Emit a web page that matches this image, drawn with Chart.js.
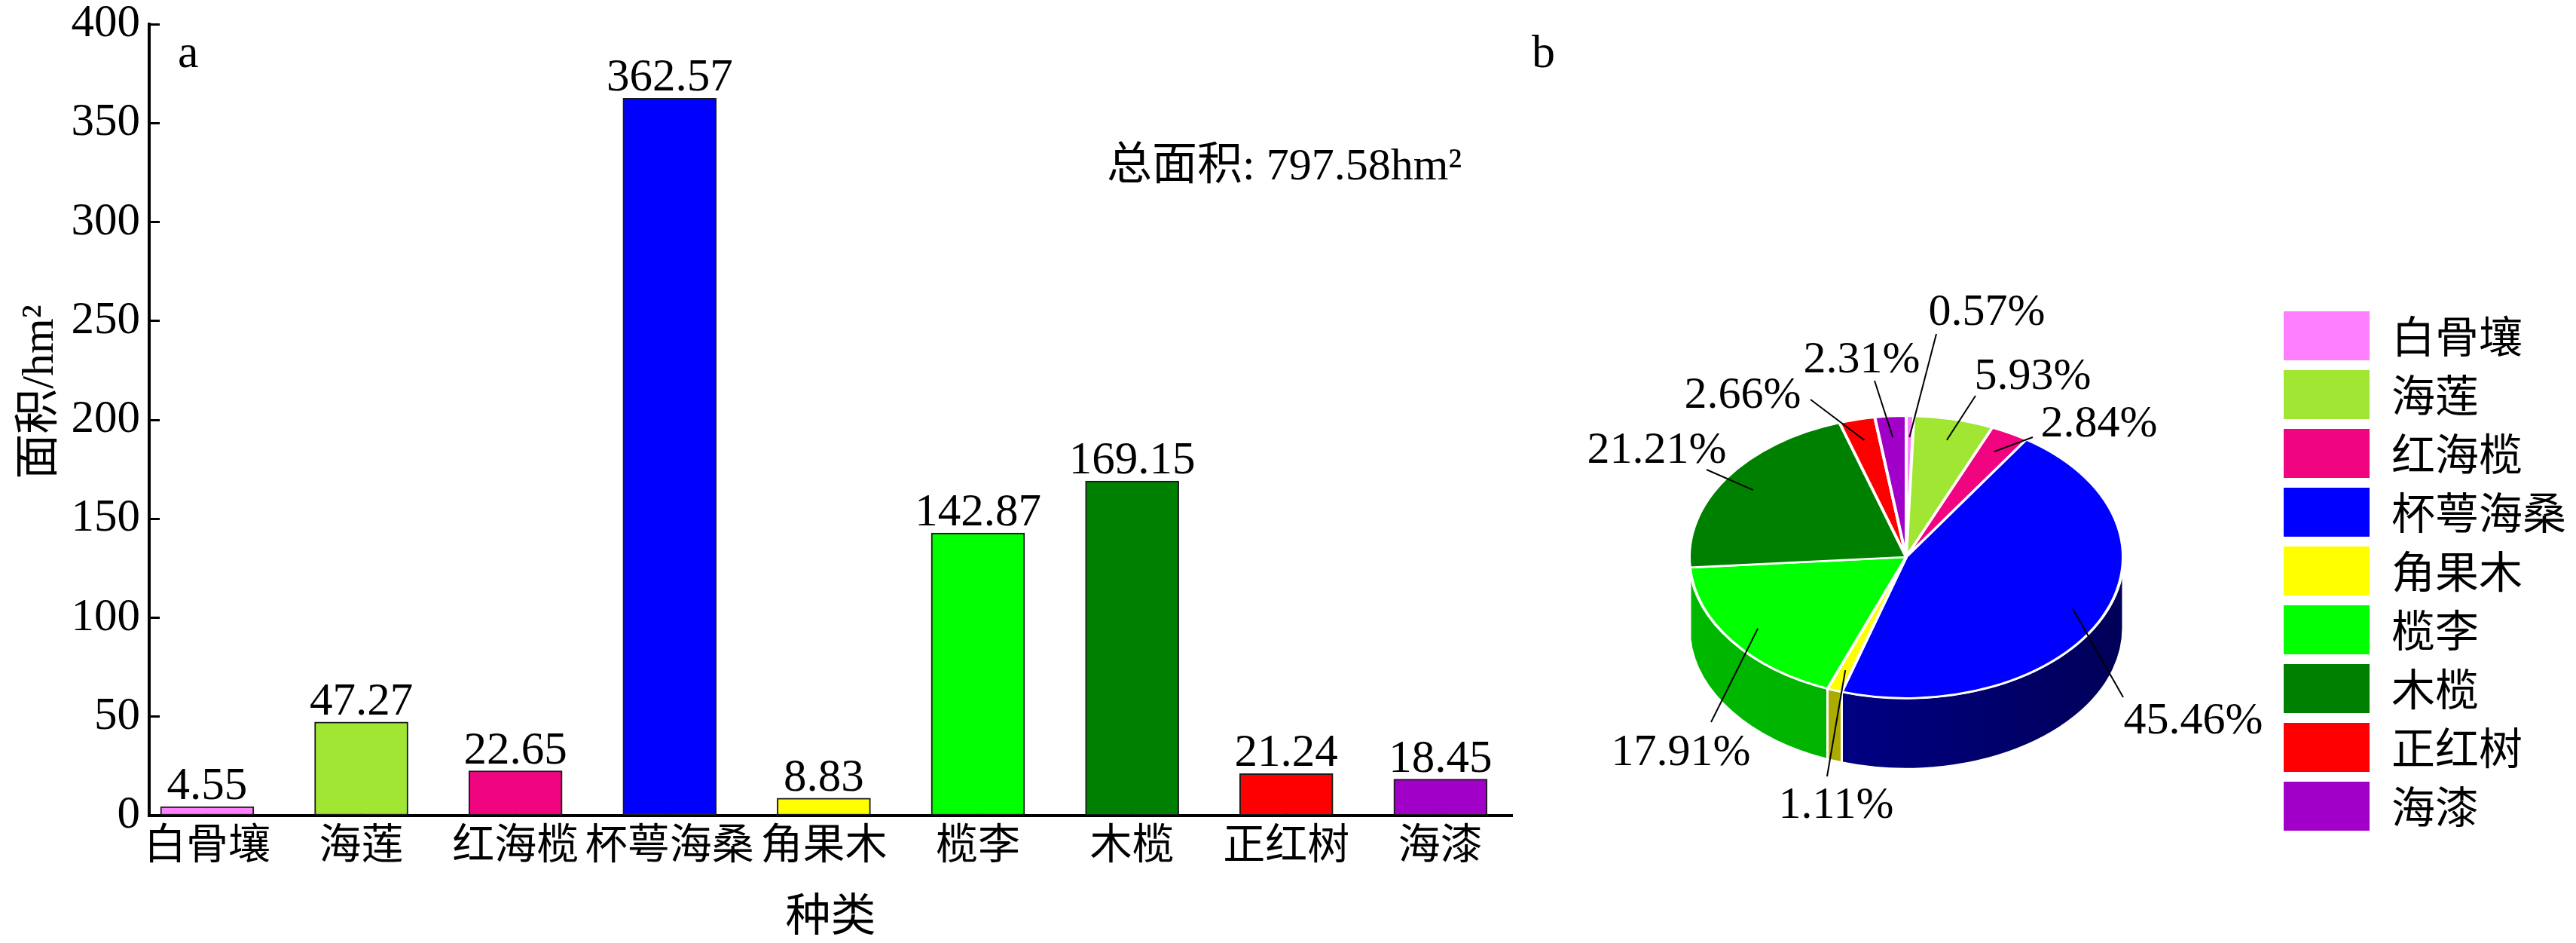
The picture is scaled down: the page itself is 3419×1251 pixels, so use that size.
<!DOCTYPE html>
<html><head><meta charset="utf-8">
<script src="https://cdn.jsdelivr.net/npm/chart.js@4.4.0/dist/chart.umd.min.js"></script>
<style>
html,body{margin:0;padding:0;background:#fff;}
#wrap{position:relative;width:3419px;height:1251px;overflow:hidden;background:#fff;}
canvas{position:absolute;top:0;}
#bar{left:0;width:2010px;height:1251px;}
#pie{left:2010px;width:1409px;height:1251px;}
</style></head><body>
<div id="wrap"><canvas id="bar" width="2010" height="1251"></canvas><canvas id="pie" width="1409" height="1251"></canvas></div>
<script>
// ---- data ----
const categories = ['白骨壤','海莲','红海榄','杯萼海桑','角果木','榄李','木榄','正红树','海漆'];
const areaValues = [4.55, 47.27, 22.65, 362.57, 8.83, 142.87, 169.15, 21.24, 18.45];
const sharePercents = [0.57, 5.93, 2.84, 45.46, 1.11, 17.91, 21.21, 2.66, 2.31];
const yTickValues = [0, 50, 100, 150, 200, 250, 300, 350, 400];
const totalAreaText = '总面积: 797.58hm²';
const xTitle = '种类';
const yTitle = '面积/hm²';

// ---- styles ----
const speciesColors = ['#FF80FF','#A0E632','#F0047F','#0000FF','#FFFF00','#00FF00','#008000','#FF0000','#A000C8'];
const sideShades = [['#C060C0','#A050A0'],['#80B828','#70A020'],['#B00060','#900050'],['#00009A','#000058'],
                    ['#B0B000','#A0A000'],['#00B800','#00A800'],['#006400','#005400'],['#B00000','#900000'],['#7000A0','#600090']];
const labelLineEnds = [[40,-296],[92,-214],[168,-159],[288,186],[-105,291],[-259,219],[-265,-116],[-127,-209],[-42,-234]];
const labelTextPos  = [[107,-308],[168,-223],[256,-160],[381,234],[-93,346],[-299,276],[-331,-125],[-217,-198],[-59,-245]];
const SERIF = "'Liberation Serif','Times New Roman',serif";
const CJK = "'Noto Sans CJK SC',sans-serif";
const MIXED = "'Liberation Serif','Noto Sans CJK SC',serif";
const TILT = 0.65, DEPTH = 94, INNER = 0.85;

// ---- bar chart ----
const barDecor = {
  id: 'barDecor',
  afterDatasetsDraw(chart) {
    const ctx = chart.ctx;
    const meta = chart.getDatasetMeta(0);
    ctx.save();
    ctx.font = '61px ' + SERIF;
    ctx.fillStyle = '#000';
    ctx.textAlign = 'center';
    ctx.textBaseline = 'alphabetic';
    meta.data.forEach((bar, i) => {
      ctx.fillText(areaValues[i].toFixed(2), bar.x, bar.y - 10);
    });
    ctx.restore();
  },
  afterDraw(chart) {
    const ctx = chart.ctx;
    ctx.save();
    ctx.fillStyle = '#000';
    ctx.textBaseline = 'alphabetic';
    ctx.textAlign = 'left';
    ctx.font = '62px ' + SERIF;
    ctx.fillText('a', 236, 89);
    ctx.font = '60px ' + MIXED;
    ctx.fillText(totalAreaText, 1469, 238);
    ctx.translate(54, 520);
    ctx.rotate(-Math.PI / 2);
    ctx.textAlign = 'center';
    ctx.textBaseline = 'middle';
    ctx.fillText(yTitle, 0, 0);
    ctx.restore();
  }
};

new Chart(document.getElementById('bar'), {
  type: 'bar',
  data: {
    datasets: [{
      data: categories.map((c, i) => ({x: i + 1, y: areaValues[i]})),
      backgroundColor: speciesColors,
      borderColor: '#1a1a1a',
      borderWidth: 2,
      borderSkipped: false,
      barThickness: 124
    }]
  },
  options: {
    responsive: false,
    animation: false,
    devicePixelRatio: 1,
    layout: {padding: {top: 32, right: 3, left: 0, bottom: 0}},
    plugins: {legend: {display: false}, tooltip: {enabled: false}},
    scales: {
      x: {
        type: 'linear',
        offset: false,
        min: 0.624, max: 9.465,
        z: 1,
        afterBuildTicks: s => { s.ticks = categories.map((c, i) => ({value: i + 1})); },
        afterFit: s => { s.height = 169; },
        ticks: {
          autoSkip: false, maxRotation: 0, minRotation: 0,
          callback: v => categories[Math.round(v) - 1],
          font: {family: CJK, size: 56, lineHeight: 1.2},
          color: '#000', padding: 7
        },
        grid: {offset: false, drawOnChartArea: false, tickLength: -5, tickWidth: 3, tickColor: '#000'},
        border: {color: '#000', width: 4},
        title: {display: true, text: xTitle, font: {family: CJK, size: 60, lineHeight: 1.2}, color: '#000', padding: {top: 0, bottom: 3}}
      },
      y: {
        min: 0, max: 400,
        z: 1,
        afterBuildTicks: s => { s.ticks = yTickValues.map(v => ({value: v})); },
        afterFit: s => { s.width = 198; s.paddingTop = 0; s.paddingBottom = 0; },
        ticks: {font: {family: SERIF, size: 61, lineHeight: 1}, color: '#000', padding: 26},
        grid: {drawOnChartArea: false, tickLength: -14, tickWidth: 3, tickColor: '#000'},
        border: {color: '#000', width: 4}
      }
    }
  },
  plugins: [barDecor]
});

// ---- 3D pie ----
const pie3d = {
  id: 'pie3d',
  beforeDatasetsDraw(chart) {
    const ctx = chart.ctx;
    const arcs = chart.getDatasetMeta(0).data;
    const cx = arcs[0].x, cy = arcs[0].y, R = arcs[0].outerRadius, ry = R * TILT;
    ctx.save();
    arcs.forEach((arc, i) => {
      const s = Math.max(arc.startAngle, 0), e = Math.min(arc.endAngle, Math.PI);
      if (e <= s) return;
      const g = ctx.createLinearGradient(cx - R, 0, cx + R, 0);
      g.addColorStop(0, sideShades[i][0]);
      g.addColorStop(1, sideShades[i][1]);
      ctx.beginPath();
      ctx.ellipse(cx, cy, R, ry, 0, s, e, false);
      ctx.lineTo(cx + R * Math.cos(e), cy + ry * Math.sin(e) + DEPTH);
      ctx.ellipse(cx, cy + DEPTH, R, ry, 0, e, s, true);
      ctx.closePath();
      ctx.fillStyle = g;
      ctx.fill();
      ctx.lineWidth = 3;
      ctx.strokeStyle = '#fff';
      ctx.stroke();
    });
    ctx.restore();
    ctx.save();
    ctx.translate(cx, cy);
    ctx.scale(1, TILT);
    ctx.translate(-cx, -cy);
  },
  afterDatasetsDraw(chart) {
    const ctx = chart.ctx;
    ctx.restore();
    const arcs = chart.getDatasetMeta(0).data;
    const cx = arcs[0].x, cy = arcs[0].y, R = arcs[0].outerRadius, ry = R * TILT;
    ctx.save();
    ctx.strokeStyle = '#000';
    ctx.lineWidth = 2;
    ctx.fillStyle = '#000';
    ctx.font = '60px ' + SERIF;
    ctx.textAlign = 'center';
    ctx.textBaseline = 'alphabetic';
    arcs.forEach((arc, i) => {
      const mid = (arc.startAngle + arc.endAngle) / 2;
      const ix = cx + INNER * R * Math.cos(mid), iy = cy + INNER * ry * Math.sin(mid);
      ctx.beginPath();
      ctx.moveTo(ix, iy);
      ctx.lineTo(cx + labelLineEnds[i][0], cy + labelLineEnds[i][1]);
      ctx.stroke();
      ctx.fillText(sharePercents[i].toFixed(2) + '%', cx + labelTextPos[i][0], cy + labelTextPos[i][1]);
    });
    ctx.restore();
  },
  afterDraw(chart) {
    const ctx = chart.ctx;
    ctx.save();
    ctx.fillStyle = '#000';
    ctx.font = '62px ' + SERIF;
    ctx.textAlign = 'left';
    ctx.textBaseline = 'alphabetic';
    ctx.fillText('b', 23, 89);
    ctx.restore();
  }
};

new Chart(document.getElementById('pie'), {
  type: 'pie',
  data: {
    labels: categories,
    datasets: [{
      data: sharePercents,
      backgroundColor: speciesColors,
      borderColor: '#fff',
      borderWidth: 4,
      radius: 288,
      clip: false
    }]
  },
  options: {
    responsive: false,
    animation: false,
    devicePixelRatio: 1,
    layout: {padding: {top: 227, bottom: 0, left: 32, right: 3}},
    plugins: {
      tooltip: {enabled: false},
      legend: {
        position: 'right',
        align: 'start',
        title: {display: true, text: ' ', font: {size: 10}, padding: {top: 161, bottom: 0}},
        labels: {
          boxWidth: 114, boxHeight: 65, padding: 13, color: '#000',
          font: {family: CJK, size: 58},
          generateLabels: chart => Chart.overrides.pie.plugins.legend.labels.generateLabels(chart).map(l => Object.assign(l, {lineWidth: 0, strokeStyle: 'rgba(0,0,0,0)'}))
        }
      }
    }
  },
  plugins: [pie3d]
});
</script>
</body></html>
